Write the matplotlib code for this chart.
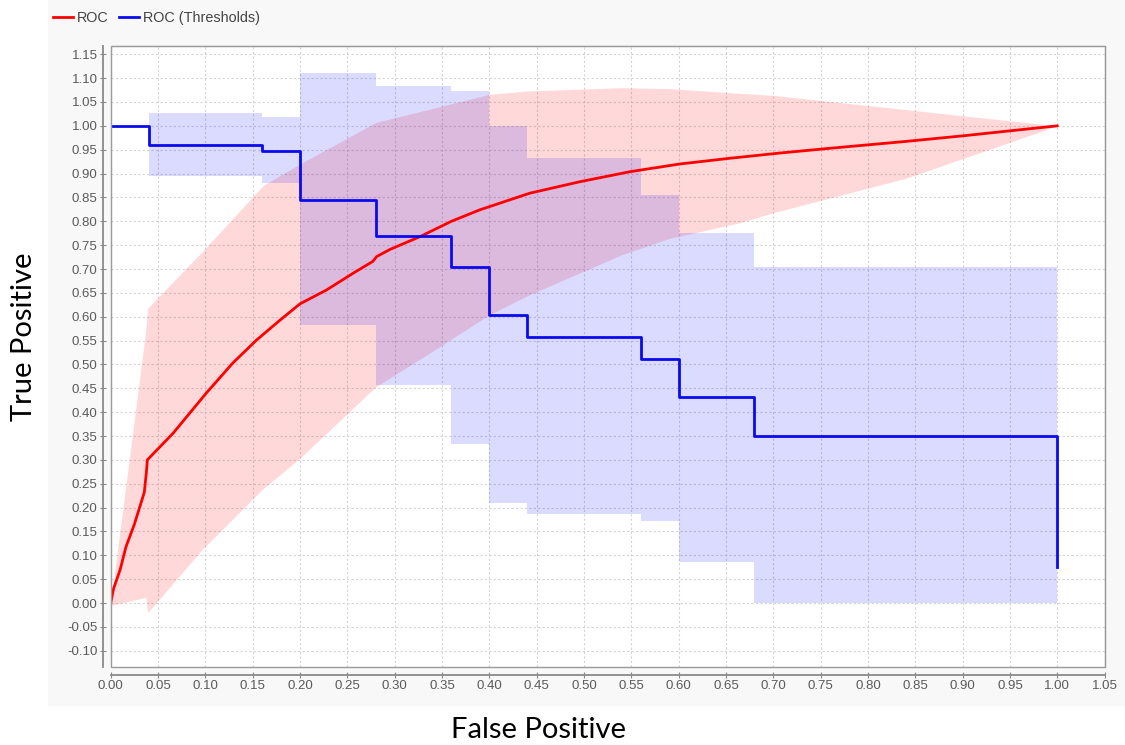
import matplotlib
matplotlib.use('Agg')
import matplotlib.pyplot as plt
from matplotlib.lines import Line2D
from matplotlib.patches import Rectangle

# mean ROC curve
roc_fpr = [0, 0.003, 0.01, 0.016, 0.025, 0.0355, 0.038, 0.0387, 0.066, 0.101, 0.129,
           0.154, 0.179, 0.20, 0.228, 0.256, 0.277, 0.281, 0.295, 0.327, 0.36, 0.39,
           0.443, 0.496, 0.549, 0.601, 0.654, 0.707, 0.76, 0.841, 0.90, 1.0]
roc_tpr = [0, 0.03, 0.07, 0.117, 0.165, 0.232, 0.28, 0.30, 0.356, 0.44, 0.503,
           0.551, 0.593, 0.627, 0.656, 0.691, 0.716, 0.726, 0.741, 0.768, 0.80, 0.824,
           0.859, 0.883, 0.904, 0.92, 0.932, 0.943, 0.953, 0.9675, 0.979, 1.0]

# confidence band of the ROC curve
band_fpr = [0, 0.037, 0.039, 0.097, 0.161, 0.198, 0.28, 0.337, 0.40, 0.44, 0.54,
            0.59, 0.665, 0.70, 0.84, 1.0]
band_hi = [0, 0.57, 0.618, 0.737, 0.875, 0.918, 1.007, 1.035, 1.066, 1.073, 1.08,
           1.078, 1.068, 1.064, 1.034, 1.0]
band_lo = [-0.005, 0.012, -0.02, 0.113, 0.24, 0.30, 0.453, 0.524, 0.604, 0.644,
           0.73, 0.764, 0.797, 0.818, 0.89, 1.0]

# ROC averaged over thresholds (step curve)
thr_fpr = [0, 0.04, 0.16, 0.20, 0.28, 0.36, 0.40, 0.44, 0.56, 0.60, 0.68, 1.00, 1.00]
thr_tpr = [1.0, 0.96, 0.948, 0.845, 0.77, 0.705, 0.603, 0.557, 0.512, 0.432, 0.35,
           0.35, 0.075]

# its band, one value per step
thr_band_x = [0.04, 0.16, 0.20, 0.28, 0.36, 0.40, 0.44, 0.56, 0.60, 0.68, 1.00]
thr_band_hi = [1.027, 1.018, 1.11, 1.084, 1.072, 1.0, 0.932, 0.855, 0.776, 0.705, 0.705]
thr_band_lo = [0.895, 0.88, 0.583, 0.457, 0.333, 0.21, 0.187, 0.172, 0.086, 0.0, 0.0]

x_ticks = [i * 0.05 for i in range(22)]
y_ticks = [-0.10 + i * 0.05 for i in range(26)]

fig = plt.figure(figsize=(11.25, 7.45), dpi=100)
# light grey panel behind the chart
fig.add_artist(Rectangle((0.043, 0.053), 0.957, 0.947, transform=fig.transFigure,
                         facecolor='#f8f8f8', edgecolor='none', zorder=-10))
ax = fig.add_axes([0.0984, 0.1047, 0.8834, 0.834])
ax.set_facecolor('white')

ax.fill_between(band_fpr, band_lo, band_hi, color=(1, 0, 0), alpha=0.15, linewidth=0)
ax.fill_between(thr_band_x, thr_band_lo, thr_band_hi, step='post', color=(0, 0, 1),
                alpha=0.14, linewidth=0)
ax.plot(roc_fpr, roc_tpr, color='#ff0000', lw=2.0, zorder=4)
ax.plot(thr_fpr, thr_tpr, color='#0a0aee', lw=2.0, drawstyle='steps-post', zorder=4)

ax.set_xlim(0, 1.05)
ax.set_ylim(-0.134, 1.168)
ax.set_xticks(x_ticks)
ax.set_yticks(y_ticks)
ax.set_xticklabels(['%.2f' % v for v in x_ticks])
ax.set_yticklabels(['%.2f' % v for v in y_ticks])
ax.grid(True, color='#d4d4d4', linestyle=(0, (2, 2)), linewidth=0.8)
ax.set_axisbelow(True)

# offset axis lines, like the original chart
for side in ['left', 'bottom']:
    ax.spines[side].set_position(('outward', 5.5))
    ax.spines[side].set_color('#8a8a8a')
    ax.spines[side].set_linewidth(1.3)
for side in ['top', 'right']:
    ax.spines[side].set_color('#9a9a9a')
ax.add_patch(Rectangle((0, 0), 1, 1, transform=ax.transAxes, fill=False,
                       edgecolor='#9a9a9a', linewidth=1.0, clip_on=False, zorder=5))
ax.tick_params(direction='inout', length=4, color='#8a8a8a', labelsize=9.5,
               labelcolor='#5a5a5a', pad=2)
for lbl in ax.get_xticklabels() + ax.get_yticklabels():
    lbl.set_family('Liberation Sans')

fig.text(0.479, 0.02, 'False Positive', fontsize=21, family='Lato',
         ha='center', va='center')
fig.text(0.021, 0.548, 'True Positive', fontsize=21, family='Lato',
         rotation=90, ha='center', va='center')

handles = [Line2D([], [], color='#ff0000', lw=2.0),
           Line2D([], [], color='#0a0aee', lw=2.0)]
fig.legend(handles, ['ROC', 'ROC (Thresholds)'], loc='center left',
           bbox_to_anchor=(0.047, 0.9755), ncol=2, frameon=False, borderpad=0,
           borderaxespad=0, prop={'family': 'Liberation Sans', 'size': 10.4},
           handlelength=1.4, handletextpad=0.28, columnspacing=0.7,
           labelcolor='#444444')

fig.savefig('out.png', dpi=100)
